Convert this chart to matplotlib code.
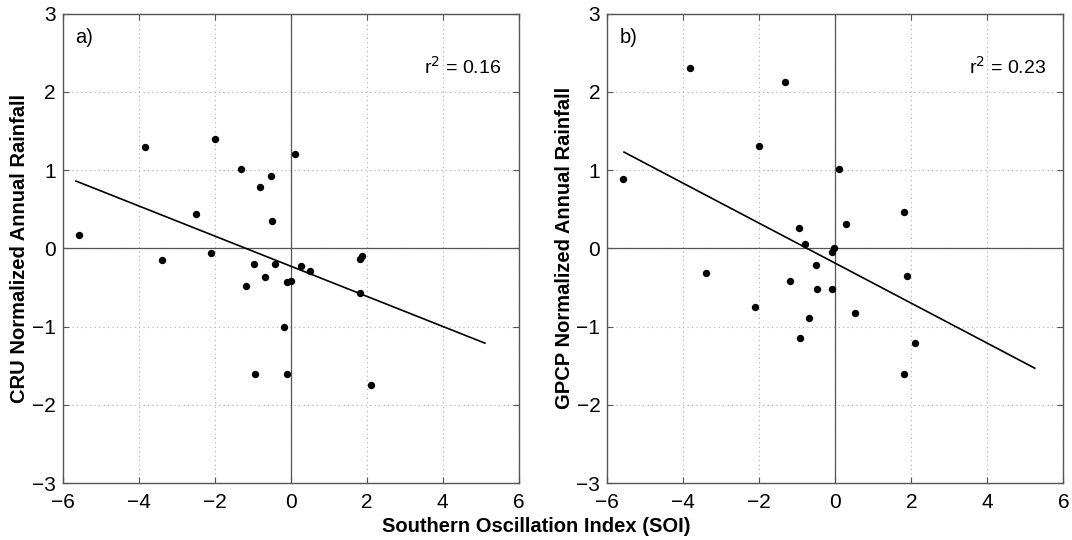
import numpy as np
import matplotlib
matplotlib.use("Agg")
import matplotlib.pyplot as plt

plt.rcParams['font.family'] = ['Liberation Sans', 'DejaVu Sans']

# panel a) CRU
soi_a = [-5.57, -3.83, -2.0, -1.32, -0.80, -0.52, 0.11, -2.48, -0.49, -3.38,
         -2.10, -0.97, -0.41, -0.69, -1.18, -0.09, 0.0, -0.18, -0.93, -0.09,
         1.82, 1.87, 0.28, 0.51, 1.83, 2.10]
cru = [0.17, 1.30, 1.40, 1.01, 0.79, 0.92, 1.20, 0.44, 0.35, -0.15,
       -0.06, -0.20, -0.20, -0.37, -0.48, -0.43, -0.41, -1.00, -1.60, -1.61,
       -0.13, -0.10, -0.22, -0.29, -0.57, -1.74]
fit_a_x = [-5.65, 5.11]
fit_a_y = [0.86, -1.21]

# panel b) GPCP
soi_b = [-3.83, -1.32, -2.0, -5.58, -0.96, -0.79, -0.09, -0.03, -0.52, 0.11,
         1.81, 0.28, -3.39, -1.18, -0.48, -0.10, -2.10, -0.70, -0.94, 1.89,
         0.51, 2.11, 1.82]
gpcp = [2.31, 2.12, 1.31, 0.88, 0.26, 0.06, -0.05, 0.0, -0.21, 1.02,
        0.46, 0.31, -0.32, -0.41, -0.52, -0.52, -0.75, -0.89, -1.15, -0.35,
        -0.83, -1.21, -1.60]
fit_b_x = [-5.56, 5.25]
fit_b_y = [1.23, -1.53]

panels = [
    (soi_a, cru, fit_a_x, fit_a_y, 'a)', 'r$^2$ = 0.16', 'CRU Normalized Annual Rainfall'),
    (soi_b, gpcp, fit_b_x, fit_b_y, 'b)', 'r$^2$ = 0.23', 'GPCP Normalized Annual Rainfall'),
]

fig = plt.figure(figsize=(10.72, 5.40), dpi=100)
lefts = [0.0585, 0.5665]
spine_col = '#555555'
fmt = plt.FuncFormatter(lambda v, p: f'{v:g}'.replace('-', '\u2212'))

for left, (x, y, fx, fy, tag, r2, ylab) in zip(lefts, panels):
    ax = fig.add_axes([left, 0.105, 0.4254, 0.870])
    ax.set_xlim(-6, 6)
    ax.set_ylim(-3, 3)
    ax.set_xticks(np.arange(-6, 7, 2))
    ax.set_yticks(np.arange(-3, 4, 1))
    ax.grid(True, linestyle=(0, (1, 3)), color='#b0b0b0', linewidth=0.8)
    ax.axhline(0, color=spine_col, linewidth=0.9)
    ax.axvline(0, color=spine_col, linewidth=0.9)
    ax.plot(fx, fy, color='black', linewidth=1.2)
    ax.plot(x, y, 'o', color='black', markersize=4.3)
    ax.text(-5.68, 2.69, tag, fontsize=14.5, va='center', ha='left')
    ax.text(5.55, 2.32, r2, fontsize=14, va='center', ha='right')
    ax.set_ylabel(ylab, fontsize=14.5, fontweight='bold', labelpad=2)
    ax.tick_params(direction='in', labelsize=15, color=spine_col, length=4,
                   top=True, right=True)
    ax.tick_params(axis='x', pad=7)
    ax.tick_params(axis='y', pad=5)
    for s in ax.spines.values():
        s.set_color(spine_col)
        s.set_linewidth(1.0)
    ax.yaxis.set_major_formatter(fmt)
    ax.xaxis.set_major_formatter(fmt)

fig.text(0.5, 0.008, 'Southern Oscillation Index (SOI)', fontsize=14.5,
         fontweight='bold', ha='center', va='bottom')

fig.savefig('out.png', dpi=100)
